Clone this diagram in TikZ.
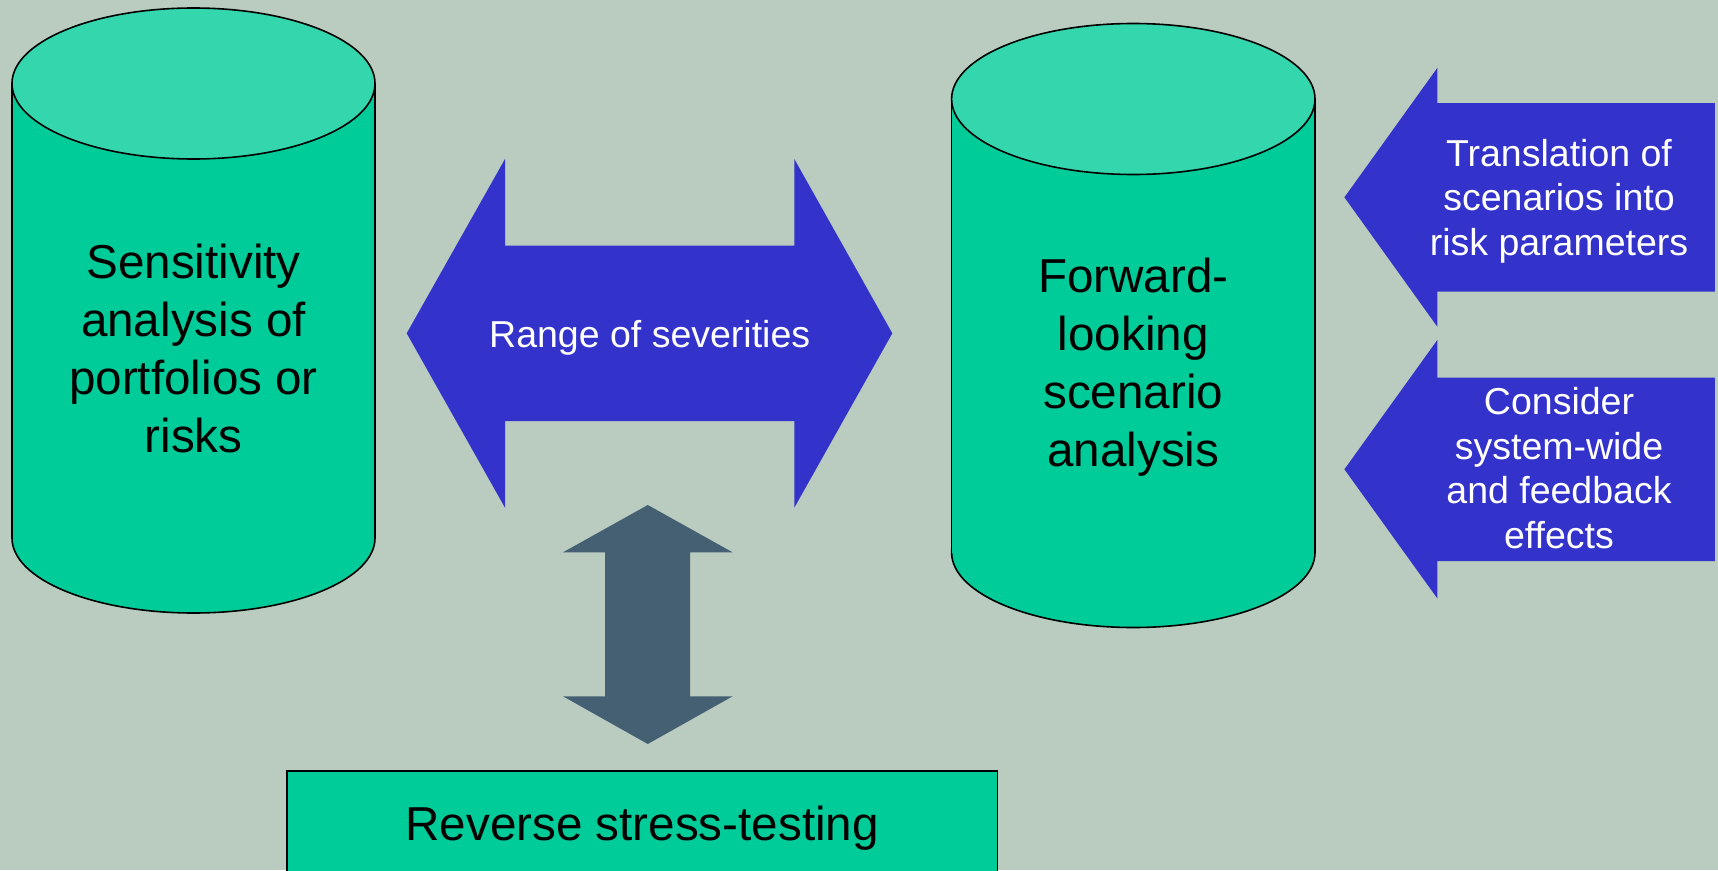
\documentclass[tikz,border=0pt]{standalone}
\usepackage{fontspec}
\setmainfont{Liberation Sans}
\definecolor{bgc}{HTML}{B9CCBF}
\definecolor{sidec}{HTML}{00CC99}
\definecolor{topc}{HTML}{33D6AD}
\definecolor{bluec}{HTML}{3333CC}
\definecolor{slatec}{HTML}{455F73}
\tikzset{
  big/.style={font=\fontsize{47.6}{58}\selectfont, align=center, inner sep=0pt, anchor=base, text=black},
  small/.style={font=\fontsize{37.5}{44.5}\selectfont, align=center, inner sep=0pt, anchor=base, text=white},
  outl/.style={draw=black, line width=1.6pt},
}
\begin{document}
\begin{tikzpicture}[x=1pt,y=-1pt]
\useasboundingbox (0,0) rectangle (1718,870);
\fill[bgc] (0,0) rectangle (1718,870);

% left cylinder
\filldraw[fill=sidec, outl] (193.5,538) ellipse [x radius=181.5pt, y radius=75pt];
\fill[sidec] (12,83.5) rectangle (375,538);
\draw[outl] (12,83.5) -- (12,538.5) (375,83.5) -- (375,538.5);
\filldraw[fill=topc, outl] (193.5,83.5) ellipse [x radius=181.5pt, y radius=75.5pt];
% anchor=base is the baseline of the last line
\node[big] (sens) at (193.5,452) {Sensitivity\\analysis of\\portfolios or\\risks};

% right cylinder
\filldraw[fill=sidec, outl] (1133.3,552.5) ellipse [x radius=181.7pt, y radius=75pt];
\fill[sidec] (951.6,99) rectangle (1315,552.5);
\draw[outl] (951.6,99) -- (951.6,553) (1315,99) -- (1315,553);
\filldraw[fill=topc, outl] (1133.3,99) ellipse [x radius=181.7pt, y radius=75.5pt];
\node[big] (fwd) at (1133.3,466) {Forward-\\looking\\scenario\\analysis};

% double arrow
\fill[bluec] (406.7,333.3) -- (505,159) -- (505,245.5) -- (794.3,245.5) -- (794.3,159)
  -- (892.3,333.3) -- (794.3,507.7) -- (794.3,421) -- (505,421) -- (505,507.7) -- cycle;
\node[small] (range) at (649.7,347.3) {Range of severities};

% right arrows
\fill[bluec] (1344.4,197.3) -- (1437.3,67.9) -- (1437.3,103) -- (1714.8,103) -- (1714.8,291.6)
  -- (1437.3,291.6) -- (1437.3,326.7) -- cycle;
\fill[bluec] (1344.4,469.3) -- (1437.3,340) -- (1437.3,377.5) -- (1714.8,377.5) -- (1714.8,561.2)
  -- (1437.3,561.2) -- (1437.3,598.4) -- cycle;
\node[small] (trans) at (1559,255.4) {Translation of\\scenarios into\\risk parameters};
\node[small] (cons) at (1559,548.2) {Consider\\system-wide\\and feedback\\effects};

% vertical arrow
\fill[slatec] (647.8,505) -- (732.6,552.3) -- (690,552.3) -- (690,696.3) -- (732.6,696.3)
  -- (647.8,744) -- (563,696.3) -- (605,696.3) -- (605,552.3) -- (563,552.3) -- cycle;

% bottom box
\filldraw[fill=sidec, outl] (287,771) rectangle (997.5,885);
\node[big] (rev) at (642.2,840) {Reverse stress-testing};
\end{tikzpicture}
\end{document}
